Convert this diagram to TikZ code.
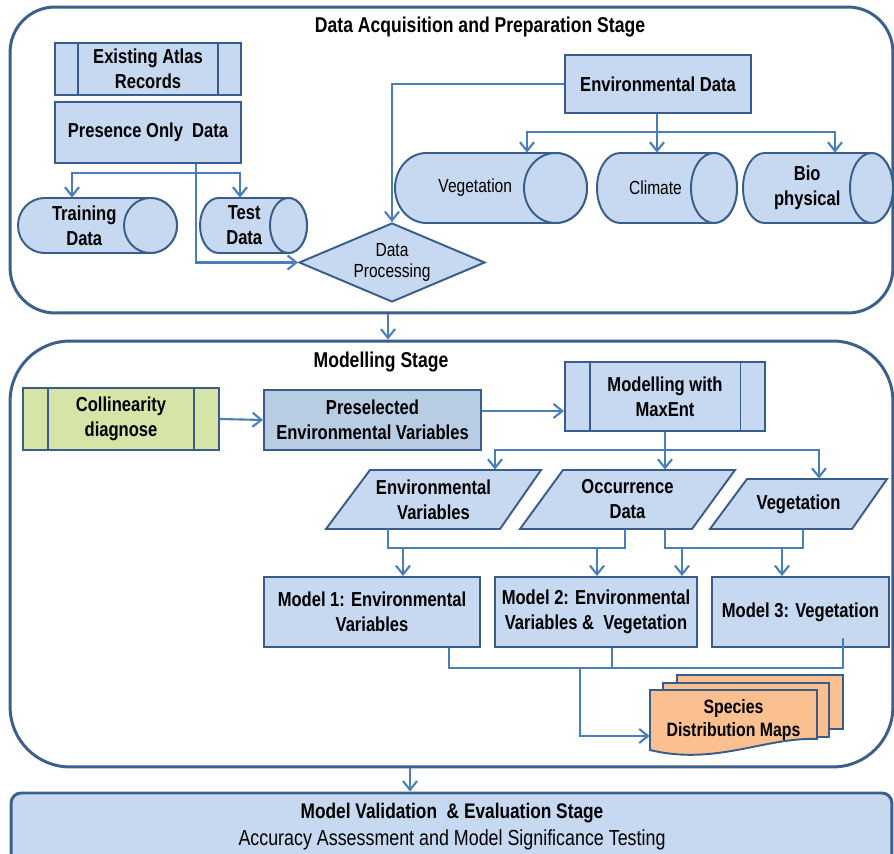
\documentclass[tikz,border=0pt]{standalone}
\usepackage{fontspec}
\setmainfont{Liberation Sans}[FakeStretch=0.82]
\usetikzlibrary{arrows.meta,calc,shapes.geometric}
\definecolor{fillblue}{RGB}{198,217,240}
\definecolor{fillblue2}{RGB}{184,204,228}
\definecolor{edgeblue}{RGB}{56,93,138}
\definecolor{arrowblue}{RGB}{74,126,187}
\definecolor{stageblue}{RGB}{60,95,140}
\definecolor{greenfill}{RGB}{215,228,168}
\definecolor{orangefill}{RGB}{250,192,144}

\newcommand{\bx}[7][]{%
 \pgfmathsetmacro{\bxW}{(#5-#3)*0.02}%
 \pgfmathsetmacro{\bxH}{(#6-#4)*0.02}%
 \pgfmathsetmacro{\bxX}{(#3+#5)/2}%
 \pgfmathsetmacro{\bxY}{(#4+#6)/2}%
 \node[shp,txt,minimum width=\bxW cm,minimum height=\bxH cm,#1] (#2) at (\bxX,\bxY) {#7};}
\newcommand{\sidebars}[2]{%
 \draw[edge] ($(#1.north west)+(#2,0)$) -- ($(#1.south west)+(#2,0)$);
 \draw[edge] ($(#1.north east)+(-#2,0)$) -- ($(#1.south east)+(-#2,0)$);}
\newcommand{\para}[8]{%
 \draw[shp] (#2,#4) -- (#3,#4) -- (#6,#7) -- (#5,#7) -- cycle;
 \pgfmathsetmacro{\bxW}{(#3-#5)*0.02}%
 \pgfmathsetmacro{\bxH}{(#7-#4)*0.02}%
 \pgfmathsetmacro{\bxX}{(#5+#3)/2}%
 \pgfmathsetmacro{\bxY}{(#4+#7)/2}%
 \node[txt,minimum width=\bxW cm,minimum height=\bxH cm] (#1) at (\bxX,\bxY) {#8};}
\newcommand{\hcyl}[8][]{%
 \pgfmathsetmacro{\cyA}{(#4+#6)/2}%
 \pgfmathsetmacro{\ryA}{(#6-#4)/2}%
 \pgfmathsetmacro{\xlA}{#3+#7}%
 \pgfmathsetmacro{\xrA}{#5-#7}%
 \draw[shp] (\xrA,#4) -- (\xlA,#4) arc[start angle=270,end angle=90,x radius=#7,y radius=\ryA] -- (\xrA,#6) arc[start angle=90,end angle=-90,x radius=#7,y radius=\ryA] -- cycle;
 \draw[shp] (\xrA,\cyA) ellipse[x radius=#7,y radius=\ryA];
 \pgfmathsetmacro{\bxW}{(#5-#3)*0.02}%
 \pgfmathsetmacro{\bxH}{(#6-#4)*0.02}%
 \pgfmathsetmacro{\bxX}{(#3+#5)/2}%
 \node[inner sep=0,minimum width=\bxW cm,minimum height=\bxH cm] (#2) at (\bxX,\cyA) {};
 \pgfmathsetmacro{\bxX}{(#3+#5-#7)/2}%
 \node[txt,#1] (#2-t) at (\bxX,\cyA) {#8};}

\begin{document}
\begin{tikzpicture}[x=0.02cm,y=-0.02cm,
 stage/.style={draw=stageblue,line width=1.7pt},
 shp/.style={draw=edgeblue,line width=1.1pt,fill=fillblue},
 edge/.style={draw=edgeblue,line width=1.1pt},
 txt/.style={font=\fontsize{11.5}{14.2}\selectfont\bfseries,align=center,inner sep=0pt,text=black},
 rtxt/.style={font=\fontsize{10.8}{12}\selectfont,align=center,inner sep=0pt},
 ttl/.style={font=\fontsize{12.2}{14}\selectfont\bfseries,inner sep=0pt},
 conn/.style={draw=arrowblue,line width=1.2pt},
 arr/.style={conn,-{Straight Barb[length=5pt,width=8pt]}},
 doc/.style={draw=edgeblue,line width=1.1pt,fill=orangefill},
]
\useasboundingbox (0,0) rectangle (894,854);

% stages
\node[stage,rounded corners=0.9cm,minimum width=17.66cm,minimum height=6.12cm] (st1) at (451.5,160) {};
\node[stage,rounded corners=1.2cm,minimum width=17.66cm,minimum height=8.52cm] (st2) at (451.5,554) {};
\node[stage,fill=fillblue,rounded corners=0.2cm,minimum width=17.62cm,minimum height=1.64cm] (val) at (451.5,834) {};
\node[ttl] (t1) at (480,27) {Data Acquisition and Preparation Stage};
\node[ttl] (t2) at (381,362) {Modelling Stage};
\node[font=\fontsize{12}{14}\selectfont\bfseries,inner sep=0pt] (vt1) at (452,813) {Model Validation\ \ \& Evaluation Stage};
\node[font=\fontsize{12.4}{14}\selectfont,inner sep=0pt] (vt2) at (452,840) {Accuracy Assessment and Model Significance Testing};

% stage 1
\bx{ear}{55}{43}{241}{95}{Existing Atlas\\Records}
\sidebars{ear}{24}
\bx{pod}{55}{102}{241}{163}{Presence Only\ \ Data}
\hcyl{trn}{18}{198}{177}{253}{26.5}{Training\\Data}
\hcyl{tst}{200}{198}{307}{253}{18.5}{Test\\Data}
\bx{envd}{565}{55}{751}{113}{Environmental Data}
\hcyl[rtxt]{veg}{395}{153}{587}{223}{31.5}{Vegetation}
\hcyl[rtxt]{clim}{597}{153}{737}{223}{23}{Climate}
\hcyl{bio}{743}{153}{893}{223}{21.5}{Bio\\physical}
\node[shp,diamond,aspect=2.35,minimum width=3.72cm,minimum height=1.58cm,inner sep=0pt,rtxt] (dp) at (392,262.5) {Data\\Processing};

\coordinate (j1) at (196,173);
\draw[conn] (pod.south -| j1) -- (j1);
\draw[arr] (j1) -| (trn.north -| 72,0);
\draw[arr] (j1) -| (tst.north -| 240,0);
\draw[arr] (j1) |- (dp.west);
\draw[arr] (envd.west) -| (dp.north);
\coordinate (j2) at (657,132);
\draw[arr] (envd.south -| j2) -- (clim.north -| j2);
\draw[arr] (j2) -| (veg.north -| 527,0);
\draw[arr] (j2) -| (bio.north -| 835,0);
\draw[arr] (st1.south -| 388,0) -- (st2.north -| 388,0);

% stage 2
\bx[fill=greenfill]{col}{23}{388}{219}{450}{Collinearity\\diagnose}
\sidebars{col}{26}
\bx[fill=fillblue2]{pre}{264}{390}{481}{450}{Preselected\\Environmental Variables}
\bx{mx}{565}{362}{765}{431}{Modelling with\\MaxEnt}
\sidebars{mx}{25.5}
\para{ev}{370}{541}{470}{326}{500}{529}{Environmental\\Variables}
\para{occ}{563}{735}{470}{520}{692}{529}{Occurrence\\Data}
\para{vg}{747}{887}{479}{710}{852}{529}{Vegetation}
\bx{m1}{264}{577}{480}{647}{Model 1: Environmental\\Variables}
\bx{m2}{495}{577}{697}{647}{Model 2: Environmental\\Variables \&\ \ Vegetation}
\bx{m3}{712}{577}{889}{647}{Model 3: Vegetation}

\draw[doc] (677,675) rectangle (843,729);
\draw[doc] (663,683) rectangle (829,737);
\draw[doc] (650,690) -- (817,690) -- (817,739) .. controls (765,737) and (715,766) .. (650,750) -- cycle;
\node[txt,font=\fontsize{11}{13.6}\selectfont\bfseries,minimum width=3.34cm,minimum height=1.2cm] (sdm) at (733.5,720) {Species\\Distribution Maps};

\draw[arr] (col.east) -- (pre.west);
\draw[arr] (pre.east |- 0,411) -- (mx.west |- 0,411);
\coordinate (j3) at (665,450);
\draw[arr] (mx.south -| j3) -- (occ.north -| j3);
\draw[arr] (j3) -| (ev.north -| 495,0);
\draw[arr] (j3) -| (vg.north -| 819,0);

\coordinate (j4) at (388,548);
\coordinate (j5) at (665,548);
\draw[conn] (ev.south -| j4) |- (625,548) -- (occ.south -| 625,0);
\draw[arr] (403,548) -- (m1.north -| 403,0);
\draw[arr] (597,548) -- (m2.north -| 597,0);
\draw[conn] (occ.south -| j5) |- (803,548) -- (vg.south -| 803,0);
\draw[arr] (682,548) -- (m2.north -| 682,0);
\draw[arr] (782,548) -- (m3.north -| 782,0);

\coordinate (j6) at (580,668);
\draw[conn] (m1.south -| 449,0) |- (843,668) -- (843,638);
\draw[conn] (m2.south -| 612,0) -- (612,668);
\draw[arr] (j6) |- (sdm.west |- 0,736);
\draw[arr] (st2.south -| 410,0) -- (val.north -| 410,0);
\end{tikzpicture}
\end{document}
